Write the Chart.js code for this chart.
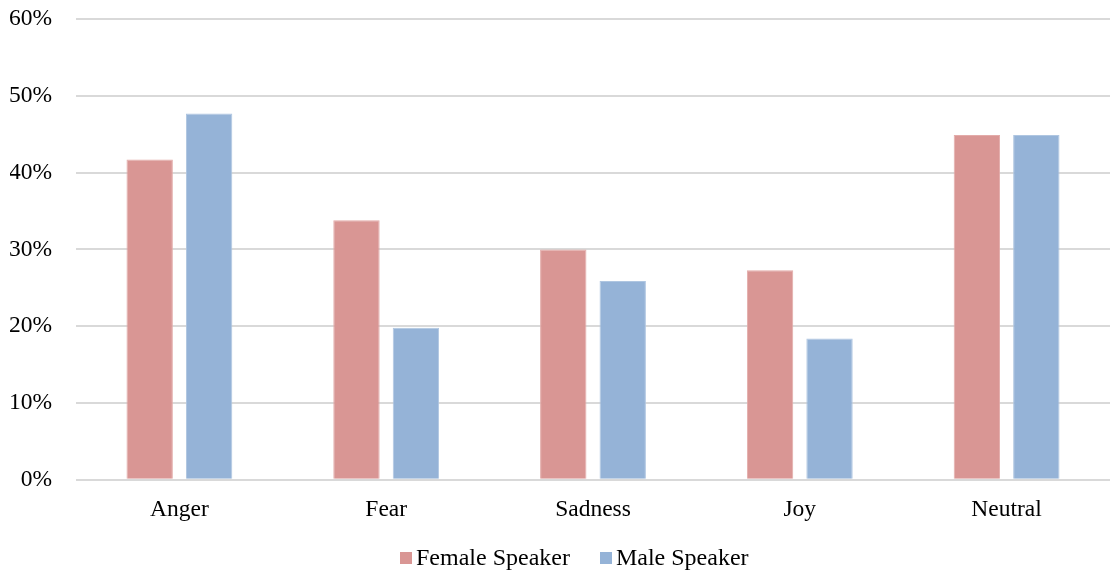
<!DOCTYPE html>
<html>
<head>
<meta charset="utf-8">
<script src="https://cdn.jsdelivr.net/npm/chart.js@4/dist/chart.umd.min.js"></script>
<style>
  html, body { margin: 0; padding: 0; background: #fff; }
  #wrap { width: 1110px; height: 572px; position: relative; }
  #legend {
    position: absolute; left: 400px; top: 543px;
    display: flex; align-items: center;
    font-family: "Liberation Serif", "Times New Roman", serif;
    font-size: 24px; color: #000; line-height: 28px; white-space: nowrap;
  }
  #legend .item { display: flex; align-items: center; margin-right: 30px; }
  #legend .swatch { width: 12px; height: 12px; margin-right: 4px; margin-top: 2px; }
</style>
</head>
<body>
<div id="wrap"><canvas id="chart"></canvas><div id="legend"></div></div>
<script>
// Emotion categories and share of utterances per speaker gender (%)
const categories = ['Anger', 'Fear', 'Sadness', 'Joy', 'Neutral'];
const femaleSpeaker = [41.7, 33.8, 30.0, 27.3, 44.9];
const maleSpeaker = [47.7, 19.8, 25.9, 18.4, 44.9];
const yTicks = [0, 10, 20, 30, 40, 50, 60];

const serif = '"Liberation Serif", "Times New Roman", serif';

const chart = new Chart(document.getElementById('chart'), {
  type: 'bar',
  data: {
    labels: categories,
    datasets: [
      {
        label: 'Female Speaker',
        data: femaleSpeaker,
        backgroundColor: '#D99694',
        borderColor: '#E3ABA9',
        borderWidth: 1,
        categoryPercentage: 0.575,
        barPercentage: 0.78
      },
      {
        label: 'Male Speaker',
        data: maleSpeaker,
        backgroundColor: '#95B3D7',
        borderColor: '#AFC6E1',
        borderWidth: 1,
        categoryPercentage: 0.575,
        barPercentage: 0.78
      }
    ]
  },
  options: {
    responsive: true,
    maintainAspectRatio: false,
    animation: false,
    layout: { padding: { top: 19, right: 0, left: 10, bottom: 40 } },
    plugins: {
      tooltip: { enabled: false },
      legend: { display: false }
    },
    scales: {
      x: {
        grid: { display: false },
        border: { display: false },
        ticks: {
          font: { family: serif, size: 23.5 },
          color: '#000',
          padding: 8
        }
      },
      y: {
        min: 0,
        max: 60,
        afterBuildTicks: (scale) => {
          scale.ticks = yTicks.map(v => ({ value: v }));
        },
        afterFit: (scale) => {
          scale.width = 66;
          scale.paddingTop = 0;
          scale.paddingBottom = 0;
        },
        grid: { color: '#D9D9D9', lineWidth: 2, drawTicks: false },
        border: { display: false },
        ticks: {
          font: { family: serif, size: 23.5 },
          color: '#000',
          padding: 24,
          callback: (v) => v + '%'
        }
      }
    }
  }
});

// Legend built from the dataset labels and colours
const legendEl = document.getElementById('legend');
chart.data.datasets.forEach(ds => {
  const item = document.createElement('div');
  item.className = 'item';
  const sw = document.createElement('span');
  sw.className = 'swatch';
  sw.style.background = ds.backgroundColor;
  const txt = document.createElement('span');
  txt.textContent = ds.label;
  item.appendChild(sw);
  item.appendChild(txt);
  legendEl.appendChild(item);
});
</script>
</body>
</html>
